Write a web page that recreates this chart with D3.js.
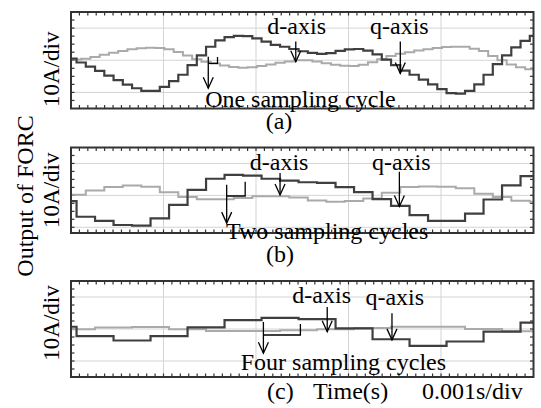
<!DOCTYPE html>
<html>
<head>
<meta charset="utf-8">
<script src="https://cdn.jsdelivr.net/npm/d3@7"></script>
<style>
  body { margin: 0; background: #fff; }
  svg { display: block; }
  text { font-family: "Liberation Serif", "Times New Roman", serif; fill: #000; }
</style>
</head>
<body>
<svg id="chart" width="541" height="408"></svg>
<script>
// ---- data (time in ms, current in A; 10 A per division) ----
const timeDomain = [0, 5];
const timeGrid = [1, 2, 3, 4];
const currentGrid = [-10, 0, 10];
const panelLetters = ["(a)", "(b)", "(c)"];
const cycleLabels = ["One sampling cycle", "Two sampling cycles", "Four sampling cycles"];
const stepMs = [0.1, 0.2, 0.4];           // hold time of the FORC output
const darkFirstEdge = [0.06, 0.06, 0.06]; // first step edge, q-axis trace
const lightFirstEdge = [0.11, 0.16, 0.26];// first step edge, d-axis trace
const yDomains = [[-15, 15], [-11.8, 15], [-15, 15]];

const darkA = [0.5, -0.7, -2.0, -3.3, -4.8, -6.2, -7.6, -8.7, -9.5, -9.5,
  -8.3, -6.5, -4.5, -1.5, 1.5, 4.2, 6.2, 7.2, 7.6, 7.5,
  6.8, 5.8, 4.8, 4.2, 3.5, 2.8, 2.3, 2.0, 2.2, 2.9,
  3.4, 3.5, 3.0, 1.8, 0.2, -1.5, -3.2, -4.5, -6.0, -7.5,
  -9.0, -10.2, -10.4, -9.5, -7.5, -4.5, -1.2, 1.5, 4.0, 6.0,
  7.6];
const lightA = [0.2, 0.5, 1.0, 1.7, 2.3, 2.9, 3.4, 3.7, 3.9, 3.8,
  3.4, 2.6, 1.5, 0.3, -0.5, -1.0, -1.6, -2.1, -2.3, -2.2,
  -1.8, -1.3, -0.8, -0.4, 0.0, 0.0, -0.4, -0.9, -1.4, -1.7,
  -1.8, -1.4, -0.6, 0.3, 1.3, 2.0, 2.5, 3.0, 3.4, 3.8,
  4.1, 4.2, 4.2, 3.6, 2.9, 1.3, 0.0, -1.3, -2.2, -2.8];
const darkB = [-1.8, -6.7, -8.0, -9.3, -9.5, -7.2, -3.0, 1.7, 5.2, 6.4,
  6.2, 5.2, 4.6, 4.1, 3.9, 2.6, 1.0, -1.2, -3.3, -6.2,
  -8.0, -8.0, -5.7, -1.3, 3.1, 6.0];
const lightB = [0.2, 1.5, 2.6, 3.1, 2.7, 1.0, -0.5, -1.2, -1.2, -0.8,
  -0.3, -0.3, -0.7, -1.6, -2.0, -1.8, -1.0, 0.8, 2.6, 2.8,
  2.7, 2.2, 0.5, -0.5, -1.7, -2.0];
const darkC = [0.7, -2.2, -3.6, -2.2, 0.5, 2.8, 3.5, 3.1, 0.2, -3.2, -5.3, -3.9, -0.8, 2.0];
const lightC = [-0.1, 0.5, 0.6, -0.1, -0.6, -0.6, -0.4, -0.1, 0.3, 0.7, 0.7, 0.0, -0.7];

// annotation anchors in data units: [t, value] or [t, from, to]
const dLabelAt = [[2.44, 8.3], [2.25, 7.9], [2.71, 8.0]];
const dArrowAt = [[2.43, 5.8, -0.45], [2.26, 7.0, 0.1], [2.77, 6.9, -0.85]];
const qLabelAt = [[3.55, 8.3], [3.57, 7.9], [3.5, 7.5]];
const qArrowAt = [[3.56, 5.8, -4.1], [3.55, 7.4, -3.5], [3.47, 4.9, -3.4]];
const cycleArrowAt = [[1.484, 1.1, -8.7], [1.683, 3.3, -8.7], [2.08, 2.2, -7.55]];
const bracketAt = [[-0.95, 1.0], [-0.2, 4.3], [-1.87, 1.55]]; // [bottom, top of right edge]
const cycleLabelAt = [[1.45, -14.5], [1.676, -13.7], [1.835, -12.7]];

const darkSeries = [darkA, darkB, darkC];
const lightSeries = [lightA, lightB, lightC];

// ---- layout ----
const W = 541, H = 408;
const plotLeft = 71, plotRight = 533.5;
const panelTop = [12, 147.5, 281];
const panelBottom = [108.5, 233, 377];
const xMinorPerDiv = 11;

const svg = d3.select("#chart");
const x = d3.scaleLinear().domain(timeDomain).range([plotLeft, plotRight]);

function stepPoints(values, firstEdge, dt) {
  const pts = values.map((v, k) => [k === 0 ? timeDomain[0] : firstEdge + (k - 1) * dt, v]);
  pts.push([timeDomain[1], values[values.length - 1]]);
  return pts;
}

function arrow(g, px, y1, y2) {
  g.append("line").attr("x1", px).attr("x2", px).attr("y1", y1).attr("y2", y2)
    .attr("stroke", "#000").attr("stroke-width", 1.3);
  g.append("path")
    .attr("d", `M${px - 5},${y2 - 11}L${px},${y2}L${px + 5},${y2 - 11}`)
    .attr("fill", "none").attr("stroke", "#000").attr("stroke-width", 1.3);
}

panelLetters.forEach((letter, i) => {
  const y = d3.scaleLinear().domain(yDomains[i]).range([panelBottom[i], panelTop[i]]);
  const g = svg.append("g");

  g.append("clipPath").attr("id", "clip" + i).append("rect")
    .attr("x", plotLeft).attr("y", panelTop[i])
    .attr("width", plotRight - plotLeft).attr("height", panelBottom[i] - panelTop[i]);

  // grid
  g.selectAll(".vgrid").data(timeGrid).join("line")
    .attr("x1", d => x(d)).attr("x2", d => x(d))
    .attr("y1", panelTop[i]).attr("y2", panelBottom[i])
    .attr("stroke", "#d4d4d4").attr("stroke-width", 1);
  g.selectAll(".hgrid").data(currentGrid).join("line")
    .attr("x1", plotLeft).attr("x2", plotRight)
    .attr("y1", d => y(d)).attr("y2", d => y(d))
    .attr("stroke", "#d4d4d4").attr("stroke-width", 1);

  // minor ticks
  const nx = (timeDomain[1] - timeDomain[0]) * xMinorPerDiv;
  const xt = d3.range(1, nx).map(k => timeDomain[0] + k / xMinorPerDiv);
  const tickStyle = sel => sel.attr("stroke", "#333").attr("stroke-width", 1.2);
  g.selectAll(".xtTop").data(xt).join("line")
    .attr("x1", d => x(d)).attr("x2", d => x(d))
    .attr("y1", panelTop[i]).attr("y2", panelTop[i] + 3.5).call(tickStyle);
  g.selectAll(".xtBot").data(xt).join("line")
    .attr("x1", d => x(d)).attr("x2", d => x(d))
    .attr("y1", panelBottom[i]).attr("y2", panelBottom[i] - 3.5).call(tickStyle);
  const yt = d3.range(-15, 15.01, 2.5).filter(v => v > yDomains[i][0] + 0.5 && v < yDomains[i][1] - 0.5);
  g.selectAll(".ytL").data(yt).join("line")
    .attr("x1", plotLeft).attr("x2", plotLeft + 3.5)
    .attr("y1", d => y(d)).attr("y2", d => y(d)).call(tickStyle);
  g.selectAll(".ytR").data(yt).join("line")
    .attr("x1", plotRight).attr("x2", plotRight - 3.5)
    .attr("y1", d => y(d)).attr("y2", d => y(d)).call(tickStyle);

  // traces
  const line = d3.line().x(d => x(d[0])).y(d => y(d[1])).curve(d3.curveStepAfter);
  const traces = g.append("g").attr("clip-path", `url(#clip${i})`);
  traces.append("path")
    .attr("d", line(stepPoints(lightSeries[i], lightFirstEdge[i], stepMs[i])))
    .attr("fill", "none").attr("stroke", "#aaaaaa").attr("stroke-width", 2);
  traces.append("path")
    .attr("d", line(stepPoints(darkSeries[i], darkFirstEdge[i], stepMs[i])))
    .attr("fill", "none").attr("stroke", "#3f3f3f").attr("stroke-width", 2.2);

  // frame
  g.append("rect")
    .attr("x", plotLeft).attr("y", panelTop[i])
    .attr("width", plotRight - plotLeft).attr("height", panelBottom[i] - panelTop[i])
    .attr("fill", "none").attr("stroke", "#333").attr("stroke-width", 2);

  // annotations
  g.append("text").attr("x", x(dLabelAt[i][0])).attr("y", y(dLabelAt[i][1]))
    .attr("text-anchor", "middle").attr("font-size", 24).text("d-axis");
  arrow(g, x(dArrowAt[i][0]), y(dArrowAt[i][1]), y(dArrowAt[i][2]));
  g.append("text").attr("x", x(qLabelAt[i][0])).attr("y", y(qLabelAt[i][1]))
    .attr("text-anchor", "middle").attr("font-size", 24).text("q-axis");
  arrow(g, x(qArrowAt[i][0]), y(qArrowAt[i][1]), y(qArrowAt[i][2]));

  const cx = x(cycleArrowAt[i][0]);
  arrow(g, cx, y(cycleArrowAt[i][1]), y(cycleArrowAt[i][2]));
  const bx = x(cycleArrowAt[i][0] + stepMs[i]);
  g.append("path")
    .attr("d", `M${cx},${y(bracketAt[i][0])}L${bx},${y(bracketAt[i][0])}L${bx},${y(bracketAt[i][1])}`)
    .attr("fill", "none").attr("stroke", "#000").attr("stroke-width", 1.3);
  g.append("text").attr("x", x(cycleLabelAt[i][0])).attr("y", y(cycleLabelAt[i][1]))
    .attr("font-size", 24).text(cycleLabels[i]);

  // per-panel scale label
  g.append("text")
    .attr("transform", `translate(59,${(panelTop[i] + panelBottom[i]) / 2 + [9, 0, -6][i]}) rotate(-90)`)
    .attr("text-anchor", "middle").attr("font-size", 23).text("10A/div");
});

// captions
svg.append("text").attr("x", 279).attr("y", 129).attr("text-anchor", "middle")
  .attr("font-size", 24).text(panelLetters[0]);
svg.append("text").attr("x", 280).attr("y", 262).attr("text-anchor", "middle")
  .attr("font-size", 24).text(panelLetters[1]);
svg.append("text").attr("x", 267).attr("y", 399)
  .attr("font-size", 24).text(panelLetters[2]);
svg.append("text").attr("x", 313).attr("y", 399).attr("font-size", 24).text("Time(s)");
svg.append("text").attr("x", 422).attr("y", 399).attr("font-size", 24).text("0.001s/div");
svg.append("text")
  .attr("transform", "translate(33,196) rotate(-90)")
  .attr("text-anchor", "middle").attr("font-size", 24).text("Output of FORC");
</script>
</body>
</html>
